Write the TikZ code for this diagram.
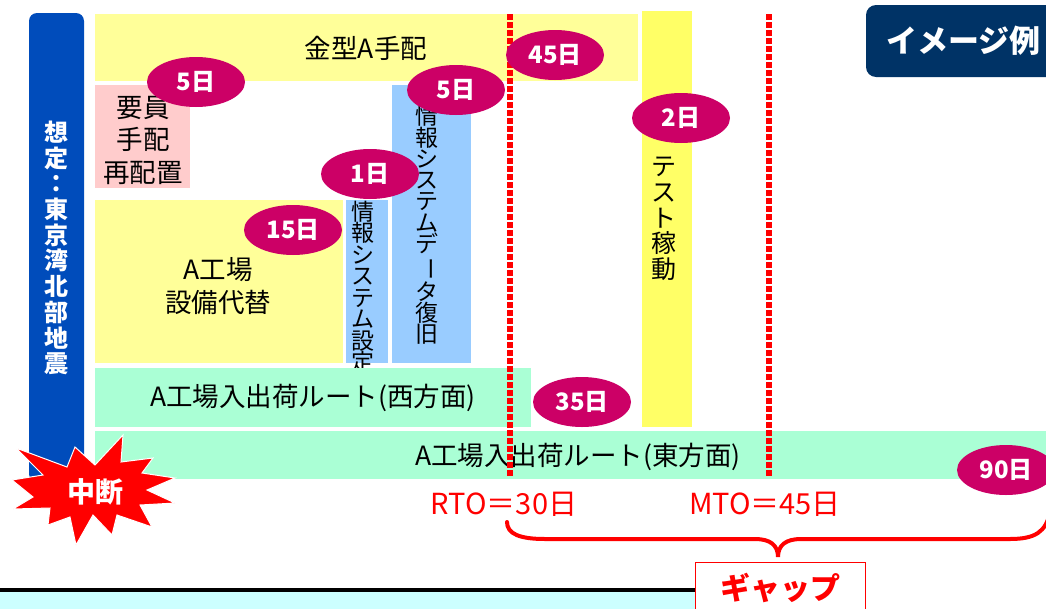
\documentclass[tikz,border=0pt]{standalone}
\usepackage{fontspec}
\setmainfont{Noto Sans CJK JP}
\usetikzlibrary{shapes.geometric}
\definecolor{barblue}{RGB}{0,76,187}
\definecolor{lyellow}{RGB}{255,255,153}
\definecolor{byellow}{RGB}{255,255,102}
\definecolor{lpink}{RGB}{255,204,204}
\definecolor{lblue}{RGB}{153,204,255}
\definecolor{mint}{RGB}{170,255,213}
\definecolor{mag}{RGB}{204,0,102}
\definecolor{navy}{RGB}{0,51,102}
\definecolor{lcyan}{RGB}{204,255,255}
\tikzset{
  lbl/.style={inner sep=0, align=center, font=\fontsize{26.5}{32.5}\selectfont},
  vlbl/.style={inner sep=0, align=center},
  day/.style={ellipse, fill=mag, text=white, inner sep=0, minimum width=98pt, minimum height=50pt,
     font=\bfseries\fontsize{24}{24}\selectfont},
  redtxt/.style={inner sep=0, text=red, font=\fontsize{29}{29}\selectfont}
}
\newcommand\vbar{\rotatebox[origin=c]{-90}{ー}}
\begin{document}
\begin{tikzpicture}[x=1pt,y=-1pt]
\useasboundingbox (0,0) rectangle (1046,608);
% left scenario bar
\fill[barblue, rounded corners=8pt] (29,13) rectangle (84,482);
\node[vlbl, text=white, font=\bfseries\fontsize{24}{25.7}\selectfont] (scen) at (56,248)
  {想\\定\\：\\東\\京\\湾\\北\\部\\地\\震};
% boxes
\fill[lyellow] (95,14) rectangle (638,81);
\node[lbl] (kanagata) at (366,48) {金型A手配};
\fill[lpink] (95,85) rectangle (190,188);
\node[lbl] (youin) at (143,140) {要員\\手配\\再配置};
\fill[lyellow] (95,200) rectangle (343,363);
\node[lbl, font=\fontsize{26.5}{33}\selectfont] (setsubi) at (218,286) {A工場\\設備代替};
\fill[lblue] (346,200) rectangle (388,363);
\node[vlbl, font=\fontsize{23}{21.5}\selectfont] (sysset) at (363,287)
  {情\\報\\シ\\ス\\テ\\ム\\設\\定};
\fill[lblue] (392,85) rectangle (471,363);
\node[vlbl, font=\fontsize{23}{21.3}\selectfont] (sysdata) at (427,225)
  {情\\報\\シ\\ス\\テ\\ム\\デ\\\vbar\\タ\\復\\旧};
\fill[byellow] (642,11) rectangle (692,427);
\node[vlbl, font=\fontsize{25}{25.6}\selectfont] (test) at (664,219)
  {テ\\ス\\ト\\稼\\動};
\fill[mint] (95,368) rectangle (531,427);
\node[lbl] (west) at (313,398) {A工場入出荷ルート(西方面)};
\fill[mint] (95,431) rectangle (1046,479);
\node[lbl] (east) at (578,457) {A工場入出荷ルート(東方面)};
% dotted lines (square dots)
\foreach \yy in {14,22,...,476} {
  \fill[red] (507,\yy) rectangle ++(6,5.5);
  \fill[red] (766,\yy) rectangle ++(6,5.5);
}
% days
\node[day] (d1) at (196,82) {5日};
\node[day] (d2) at (555,55) {45日};
\node[day] (d3) at (456,90) {5日};
\node[day] (d4) at (370,174) {1日};
\node[day] (d5) at (293,230) {15日};
\node[day] (d6) at (681,118) {2日};
\node[day] (d7) at (582,402) {35日};
\node[day] (d8) at (1006,470) {90日};
% image tag
\fill[navy, rounded corners=10pt] (866,5) rectangle (1070,77);
\node[inner sep=0, anchor=west, text=white, font=\bfseries\fontsize{31}{31}\selectfont] (tag) at (886,41) {イメージ例};
% burst
\fill[red, draw=white, line width=1pt] (16,448) -- (67,467) -- (75,447) -- (95,465) -- (123,435) -- (121,462)
  -- (153,458) -- (142,473) -- (175,478) -- (147,490) -- (175,503) -- (140,505) -- (152,527)
  -- (117,515) -- (112,535) -- (93,515) -- (76,545) -- (70,517) -- (48,525) -- (50,508)
  -- (13,509) -- (33,497) -- (12,480) -- (43,475) -- cycle;
\node[inner sep=0, text=white, font=\bfseries\fontsize{28}{28}\selectfont] (stop) at (95,492) {中断};
% RTO / MTO
\node[redtxt] (rto) at (504,504) {RTO＝30日};
\node[redtxt] (mto) at (765,504) {MTO＝45日};
% brace
\draw[red, line width=4pt, line cap=round] (507,522) .. controls (507,534) and (520,539) .. (545,539)
  -- (755,539) .. controls (770,539) and (778,545) .. (778,557)
  .. controls (778,545) and (786,539) .. (801,539) -- (1010,539)
  .. controls (1035,539) and (1046,532) .. (1050,512);
% bottom
\fill[lcyan] (0,592) rectangle (695,610);
\fill[black] (0,588) rectangle (695,592);
\node[draw=red, fill=white, line width=1pt, minimum width=170pt, minimum height=60pt, inner sep=0,
  anchor=north west] (gapbox) at (695,562) {};
\node[inner sep=0, text=red, font=\bfseries\fontsize{30}{30}\selectfont] (gap) at (780,588) {ギャップ};
\end{tikzpicture}
\end{document}
